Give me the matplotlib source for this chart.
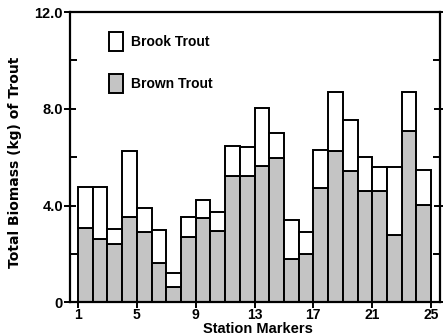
import numpy as np
import matplotlib
matplotlib.use("Agg")
import matplotlib.pyplot as plt

# station markers (bar left edges) and biomass in kg
stations = np.arange(1, 25)
brownTrout = [3.06, 2.64, 2.43, 3.52, 2.92, 1.64, 0.63, 2.71, 3.49, 2.94, 5.24, 5.24,
              5.62, 5.96, 1.80, 2.01, 4.73, 6.24, 5.42, 4.59, 4.59, 2.80, 7.08, 4.04]
brookTrout = [1.69, 2.11, 0.61, 2.73, 0.98, 1.37, 0.59, 0.82, 0.76, 0.78, 1.21, 1.17,
              2.41, 1.06, 1.62, 0.89, 1.58, 2.44, 2.13, 1.44, 0.99, 2.78, 1.63, 1.44]
xTicks = [1, 5, 9, 13, 17, 21, 25]
yTicks = [0, 4, 8, 12]
yTickLabels = ["0", "4.0", "8.0", "12.0"]

plt.rcParams['font.family'] = ['Liberation Sans', 'DejaVu Sans']
plt.rcParams['font.weight'] = 'bold'

fig = plt.figure(figsize=(4.43, 3.36), dpi=100)
ax = fig.add_axes([0.158, 0.1, 0.835, 0.864])

ax.bar(stations, brownTrout, width=1, align='edge', color='#c4c4c4',
       edgecolor='black', linewidth=1.4, label='Brown Trout')
ax.bar(stations, brookTrout, width=1, align='edge', bottom=brownTrout, color='white',
       edgecolor='black', linewidth=1.4, label='Brook Trout')

ax.set_xlim(0.46, 25.6)
ax.set_ylim(0, 12)
ax.set_xticks(xTicks)
ax.set_xticklabels([str(t) for t in xTicks], fontsize=10, fontweight='bold')
ax.set_yticks(yTicks)
ax.set_yticklabels(yTickLabels, fontsize=10.5, fontweight='bold')
ax.set_yticks([2, 6, 10], minor=True)
ax.tick_params(axis='x', direction='out', length=4, width=1.4, pad=0)
ax.tick_params(axis='y', which='major', direction='inout', length=8, width=1.4,
               right=True, pad=1)
ax.tick_params(axis='y', which='minor', direction='in', length=5, width=1.4, right=True)
for s in ax.spines.values():
    s.set_linewidth(1.6)

ax.set_xlabel("Station Markers", fontsize=10.5, fontweight='bold', va='center')
ax.xaxis.set_label_coords(0.507, -0.091)
ax.set_ylabel("Total Biomass (kg) of Trout", fontsize=10, fontweight='bold', va='center',
              family='DejaVu Sans')
ax.yaxis.set_label_coords(-0.149, 0.484)

handles, labels = ax.get_legend_handles_labels()
ax.legend(handles[::-1], labels[::-1], loc='upper left', bbox_to_anchor=(0.072, 0.975),
          frameon=False, handlelength=1.0, handleheight=1.7, labelspacing=1.7,
          handletextpad=0.6, prop={'size': 10, 'weight': 'bold'})

fig.savefig("out.png", dpi=100)
